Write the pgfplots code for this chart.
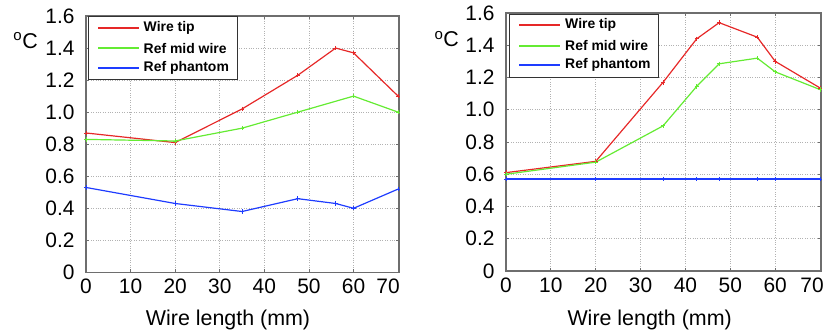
\documentclass[border=0pt]{standalone}
\usepackage{fontspec}
\setmainfont{Liberation Sans}
\usepackage{pgfplots}
\pgfplotsset{compat=1.18}
\definecolor{cred}{RGB}{230,40,40}
\definecolor{cgreen}{RGB}{100,235,50}
\definecolor{cblue}{RGB}{30,60,255}
\definecolor{cframe}{RGB}{110,110,110}
\pgfplotsset{
  mystyle/.style={
    scale only axis,
    xmin=0, xmax=70.2, ymin=0, ymax=1.6,
    xtick={0,10,...,70}, ytick={0,0.2,...,1.6},
    yticklabels={0,0.2,0.4,0.6,0.8,1.0,1.2,1.4,1.6},
    /pgf/number format/assume math mode=true,
    tick label style={font=\fontsize{21}{24}\selectfont},
    yticklabel style={xshift=-8bp},
    xticklabel style={yshift=-3bp},
    tick align=inside, major tick length=3bp,
    tick style={cframe, line width=0.8pt},
    axis line style={cframe, line width=1.1pt},
    grid=major,
    major grid style={gray!60, dotted, line width=0.8pt},
    clip=false,
    every axis plot/.append style={line width=1.2pt, mark=+, mark size=2.2bp, mark options={line width=0.8pt}},
    label style={font=\fontsize{21.5}{24}\selectfont},
  },
}
\newcommand{\mylegend}[4]{%
  \draw[black!80, line width=1pt, fill=white] (#1bp,#2bp) rectangle ++(149bp,-63bp);
  \fill[cred] (#3bp,#2bp-12bp) rectangle ++(41bp,2bp);
  \fill[cgreen] (#3bp,#2bp-32.5bp) rectangle ++(41bp,2bp);
  \fill[cblue] (#3bp,#2bp-52bp) rectangle ++(41bp,2bp);
  \node[anchor=west, inner sep=0pt, font=\fontsize{14}{16}\bfseries\selectfont] at (#4bp,#2bp-11bp) {Wire tip};
  \node[anchor=west, inner sep=0pt, font=\fontsize{14}{16}\bfseries\selectfont] at (#4bp,#2bp-31.5bp) {Ref mid wire};
  \node[anchor=west, inner sep=0pt, font=\fontsize{14}{16}\bfseries\selectfont] at (#4bp,#2bp-51bp) {Ref phantom};
}
\begin{document}
\begin{tikzpicture}
\useasboundingbox (0,0) rectangle (826bp,333bp);
\begin{axis}[mystyle,
  at={(86bp,60.6bp)}, anchor=south west,
  width=313bp, height=256.4bp,
  xticklabels={0,10,20,30,40,50,60,{\hspace*{-20bp}70}},
  xlabel={Wire length (mm)},
  xlabel style={at={(axis description cs:0.4537,0)}, anchor=base, yshift=-52.6bp},
]
\addplot[cred] coordinates {(0,0.87) (20,0.81) (35,1.02) (47.5,1.23) (56,1.40) (60,1.37) (70,1.10)};
\addplot[cgreen] coordinates {(0,0.83) (20,0.82) (35,0.90) (47.5,1.00) (60,1.10) (70,1.00)};
\addplot[cblue] coordinates {(0,0.53) (20,0.43) (35,0.38) (47.5,0.46) (56,0.43) (60,0.40) (70,0.52)};
\node[anchor=base west, font=\fontsize{21.5}{24}\selectfont] at (axis description cs:-0.243,0.875) {\textsuperscript{o}C};
\end{axis}
\begin{axis}[mystyle,
  at={(506bp,62bp)}, anchor=south west,
  width=315bp, height=258bp,
  xticklabels={0,10,20,30,40,50,60,{\hspace*{-16bp}70}},
  xlabel={Wire length (mm)},
  xlabel style={at={(axis description cs:0.456,0)}, anchor=base, yshift=-54bp},
]
\addplot[cred] coordinates {(0,0.61) (20,0.68) (35,1.17) (42.5,1.44) (47.5,1.54) (56,1.45) (60,1.30) (70,1.135)};
\addplot[cgreen] coordinates {(0,0.60) (20,0.675) (35,0.90) (42.5,1.145) (47.5,1.285) (56,1.32) (60,1.235) (70,1.125)};
\addplot[cblue] coordinates {(0,0.57) (20,0.57) (35,0.57) (42.5,0.57) (47.5,0.57) (56,0.57) (60,0.57) (70,0.57)};
\node[anchor=base west, font=\fontsize{21.5}{24}\selectfont] at (axis description cs:-0.238,0.869) {\textsuperscript{o}C};
\end{axis}
\mylegend{88}{316.3}{98.3}{143.5}
\mylegend{509.7}{318.7}{519}{565}
\end{tikzpicture}
\end{document}
